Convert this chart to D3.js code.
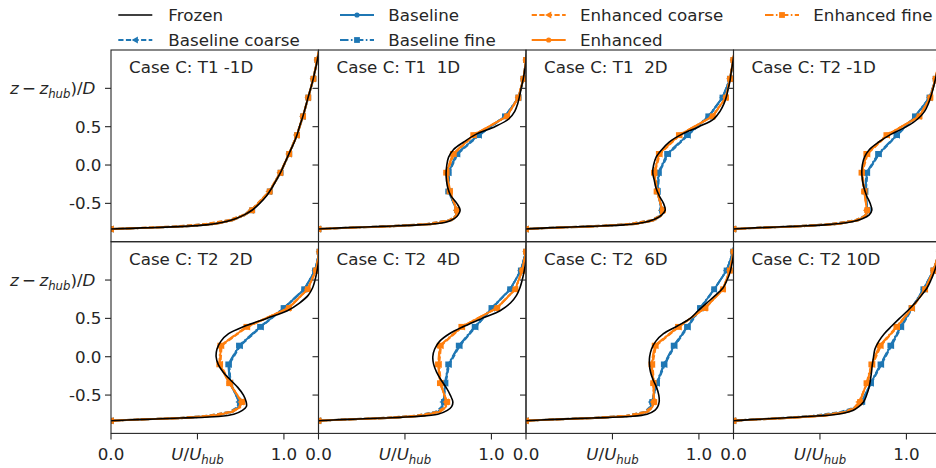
<!DOCTYPE html>
<html><head><meta charset="utf-8">
<script src="https://cdn.jsdelivr.net/npm/d3@7"></script>
<style>
body{margin:0;background:#fff;}
svg text{font-family:"DejaVu Sans",sans-serif;fill:#262626;}
</style></head><body>
<svg id="c" width="936" height="468" xmlns="http://www.w3.org/2000/svg"></svg>
<script>
// ---------------- data ----------------
const titles = ["Case C: T1 -1D","Case C: T1  1D","Case C: T1  2D","Case C: T2 -1D",
                "Case C: T2  2D","Case C: T2  4D","Case C: T2  6D","Case C: T2 10D"];
const zFrozen = [-0.835,-0.82,-0.80,-0.78,-0.75,-0.70,-0.65,-0.59,-0.50,-0.40,-0.30,-0.20,-0.10,0.0,0.10,0.20,0.30,0.40,0.50,0.60,0.70,0.80,0.90,1.0,1.1,1.2,1.3,1.4,1.5];
const zModel = [-0.835,-0.82,-0.80,-0.77,-0.72,-0.66,-0.59,-0.345,-0.10,0.145,0.39,0.635,0.88,1.125,1.37,1.615];
const markerIdx = [0,6,7,8,9,10,11,12,13,14,15];

const frozenU = [
 [0,0.18,0.42,0.55,0.64,0.72,0.77,0.815,0.86,0.90,0.93,0.955,0.98,1.0,1.02,1.04,1.06,1.077,1.09,1.105,1.118,1.13,1.142,1.155,1.167,1.177,1.187,1.196,1.205],
 [0,0.13,0.37,0.58,0.73,0.785,0.808,0.819,0.80,0.765,0.748,0.74,0.738,0.742,0.752,0.78,0.84,0.91,1.02,1.10,1.135,1.152,1.163,1.172,1.182,1.19,1.197,1.203,1.21],
 [0,0.12,0.36,0.57,0.68,0.75,0.785,0.805,0.795,0.77,0.752,0.742,0.733,0.738,0.752,0.785,0.828,0.90,1.0,1.085,1.122,1.145,1.16,1.17,1.18,1.186,1.193,1.2,1.207],
 [0,0.12,0.34,0.53,0.66,0.745,0.785,0.80,0.79,0.77,0.755,0.746,0.742,0.745,0.757,0.785,0.84,0.91,1.0,1.065,1.105,1.127,1.142,1.155,1.166,1.176,1.186,1.195,1.204],
 [0,0.15,0.40,0.62,0.71,0.76,0.783,0.782,0.766,0.733,0.69,0.648,0.62,0.608,0.613,0.635,0.68,0.775,0.90,1.02,1.09,1.14,1.166,1.18,1.19,1.198,1.205,1.21,1.215],
 [0,0.13,0.37,0.56,0.69,0.745,0.77,0.777,0.762,0.738,0.708,0.683,0.666,0.661,0.672,0.70,0.757,0.845,0.945,1.05,1.11,1.145,1.165,1.178,1.188,1.196,1.203,1.209,1.214],
 [0,0.13,0.38,0.60,0.70,0.745,0.762,0.77,0.768,0.755,0.735,0.72,0.714,0.715,0.726,0.75,0.795,0.875,0.95,0.995,1.045,1.095,1.14,1.163,1.18,1.19,1.198,1.205,1.212],
 [0,0.10,0.28,0.43,0.60,0.69,0.725,0.752,0.77,0.784,0.792,0.798,0.803,0.81,0.818,0.84,0.872,0.915,0.96,1.007,1.05,1.087,1.12,1.142,1.16,1.175,1.188,1.198,1.207]
];
const baselineCoarseU = [
 [0,0.17,0.38,0.55,0.68,0.757,0.81,0.915,0.979,1.03,1.074,1.11,1.141,1.17,1.193,1.213],
 [0,0.13,0.38,0.62,0.755,0.795,0.798,0.755,0.755,0.805,0.93,1.083,1.158,1.186,1.201,1.215],
 [0,0.12,0.36,0.59,0.725,0.775,0.783,0.764,0.77,0.824,0.938,1.058,1.138,1.18,1.2,1.215],
 [0,0.11,0.34,0.56,0.705,0.76,0.773,0.765,0.775,0.843,0.948,1.053,1.135,1.17,1.192,1.21],
 [0,0.13,0.38,0.56,0.685,0.73,0.74,0.692,0.684,0.748,0.869,1.003,1.12,1.18,1.205,1.22],
 [0,0.12,0.36,0.56,0.675,0.71,0.72,0.736,0.756,0.818,0.91,1.006,1.11,1.17,1.2,1.215],
 [0,0.12,0.36,0.58,0.685,0.715,0.725,0.76,0.803,0.861,0.938,1.011,1.09,1.16,1.198,1.215],
 [0,0.09,0.27,0.46,0.62,0.70,0.738,0.797,0.856,0.914,0.972,1.035,1.1,1.157,1.19,1.21]
];
const baselineU = [
 [0,0.2,0.44,0.59,0.70,0.765,0.815,0.917,0.98,1.03,1.075,1.11,1.14,1.17,1.192,1.212],
 [0,0.15,0.42,0.66,0.77,0.80,0.80,0.752,0.752,0.80,0.925,1.08,1.157,1.185,1.20,1.215],
 [0,0.14,0.40,0.63,0.74,0.78,0.785,0.761,0.767,0.819,0.934,1.056,1.137,1.18,1.20,1.215],
 [0,0.13,0.38,0.60,0.72,0.765,0.775,0.762,0.771,0.839,0.945,1.051,1.134,1.17,1.192,1.21],
 [0,0.15,0.42,0.60,0.70,0.735,0.743,0.689,0.68,0.743,0.865,1.0,1.118,1.18,1.205,1.22],
 [0,0.14,0.40,0.60,0.69,0.715,0.723,0.733,0.752,0.814,0.906,1.003,1.109,1.17,1.2,1.215],
 [0,0.14,0.40,0.62,0.70,0.72,0.728,0.757,0.799,0.857,0.934,1.008,1.089,1.16,1.198,1.215],
 [0,0.11,0.30,0.50,0.64,0.71,0.742,0.794,0.852,0.91,0.968,1.032,1.099,1.157,1.19,1.21]
];
const baselineFineU = [
 [0,0.21,0.45,0.60,0.705,0.768,0.817,0.918,0.981,1.031,1.076,1.111,1.141,1.171,1.193,1.212],
 [0,0.16,0.43,0.665,0.772,0.80,0.802,0.75,0.75,0.798,0.922,1.078,1.156,1.185,1.20,1.214],
 [0,0.15,0.41,0.635,0.743,0.782,0.787,0.759,0.765,0.816,0.931,1.054,1.136,1.179,1.2,1.214],
 [0,0.14,0.39,0.605,0.723,0.767,0.777,0.76,0.769,0.836,0.942,1.049,1.133,1.169,1.191,1.209],
 [0,0.16,0.43,0.605,0.703,0.737,0.745,0.687,0.678,0.74,0.862,0.998,1.117,1.18,1.205,1.22],
 [0,0.15,0.41,0.605,0.693,0.717,0.725,0.731,0.75,0.811,0.903,1.0,1.108,1.17,1.2,1.215],
 [0,0.15,0.41,0.625,0.703,0.722,0.73,0.755,0.797,0.854,0.931,1.006,1.088,1.16,1.198,1.215],
 [0,0.12,0.31,0.51,0.645,0.712,0.745,0.792,0.85,0.907,0.965,1.03,1.098,1.156,1.19,1.21]
];
const enhancedCoarseU = [
 [0,0.16,0.37,0.54,0.675,0.755,0.81,0.914,0.978,1.029,1.074,1.109,1.14,1.169,1.192,1.212],
 [0,0.13,0.38,0.62,0.755,0.795,0.798,0.762,0.743,0.784,0.90,1.088,1.155,1.185,1.20,1.215],
 [0,0.12,0.36,0.59,0.725,0.776,0.788,0.76,0.745,0.775,0.89,1.077,1.155,1.179,1.198,1.213],
 [0,0.11,0.34,0.56,0.705,0.76,0.769,0.76,0.745,0.776,0.89,1.073,1.137,1.168,1.19,1.208],
 [0,0.13,0.38,0.56,0.685,0.74,0.752,0.69,0.633,0.64,0.79,1.025,1.136,1.185,1.205,1.22],
 [0,0.12,0.36,0.56,0.685,0.73,0.738,0.708,0.698,0.709,0.833,1.03,1.137,1.178,1.2,1.215],
 [0,0.12,0.36,0.58,0.685,0.725,0.736,0.74,0.732,0.752,0.886,1.034,1.138,1.178,1.2,1.215],
 [0,0.09,0.28,0.48,0.64,0.70,0.725,0.774,0.805,0.853,0.948,1.034,1.11,1.157,1.19,1.21]
];
const enhancedU = [
 [0,0.2,0.43,0.59,0.70,0.765,0.815,0.916,0.979,1.03,1.075,1.11,1.14,1.17,1.192,1.212],
 [0,0.15,0.42,0.66,0.77,0.80,0.80,0.76,0.74,0.78,0.897,1.09,1.155,1.185,1.20,1.215],
 [0,0.14,0.40,0.63,0.74,0.78,0.79,0.757,0.742,0.77,0.886,1.079,1.156,1.179,1.198,1.213],
 [0,0.13,0.38,0.60,0.72,0.765,0.771,0.757,0.742,0.771,0.887,1.075,1.138,1.168,1.19,1.208],
 [0,0.15,0.42,0.60,0.70,0.745,0.757,0.685,0.629,0.635,0.786,1.027,1.137,1.185,1.205,1.22],
 [0,0.14,0.40,0.60,0.70,0.735,0.742,0.704,0.694,0.704,0.829,1.032,1.138,1.178,1.2,1.215],
 [0,0.14,0.40,0.62,0.70,0.73,0.74,0.737,0.728,0.747,0.882,1.036,1.139,1.178,1.2,1.215],
 [0,0.11,0.31,0.52,0.66,0.71,0.729,0.771,0.80,0.848,0.945,1.032,1.109,1.157,1.19,1.21]
];
const enhancedFineU = [
 [0,0.21,0.44,0.60,0.705,0.767,0.816,0.918,0.98,1.031,1.076,1.111,1.141,1.171,1.193,1.213],
 [0,0.16,0.43,0.665,0.772,0.80,0.802,0.758,0.738,0.777,0.895,1.091,1.156,1.185,1.20,1.214],
 [0,0.15,0.41,0.635,0.743,0.782,0.792,0.755,0.74,0.768,0.884,1.08,1.157,1.18,1.199,1.213],
 [0,0.14,0.39,0.605,0.723,0.767,0.773,0.755,0.74,0.768,0.884,1.076,1.139,1.169,1.19,1.208],
 [0,0.16,0.43,0.605,0.703,0.747,0.76,0.683,0.626,0.632,0.783,1.029,1.138,1.186,1.206,1.22],
 [0,0.15,0.41,0.605,0.703,0.737,0.745,0.702,0.691,0.701,0.826,1.034,1.139,1.179,1.2,1.215],
 [0,0.15,0.41,0.625,0.703,0.732,0.742,0.735,0.725,0.744,0.879,1.038,1.14,1.179,1.2,1.215],
 [0,0.12,0.32,0.53,0.665,0.712,0.732,0.769,0.797,0.845,0.942,1.03,1.108,1.156,1.19,1.21]
];
const yTicks = [-0.5, 0.0, 0.5, 1.0];
const yTickLabels = ["-0.5", "0.0", "0.5", "AXIS"];
const xTicks = [0.0, 0.5, 1.0];
const xTickLabels = ["0.0", "AXIS", "1.0"];
const legendNames = ["Frozen","Baseline coarse","Baseline","Baseline fine","Enhanced coarse","Enhanced","Enhanced fine"];

// ---------------- style / layout ----------------
const BLUE = "#1f77b4", ORANGE = "#ff7f0e", INK = "#262626";
const FS = 16.7;
const DASHED = "5.2,2.4", DASHDOT = "8.5,2.4,1.6,2.4";
const series = [
  {name:"Baseline coarse", data:baselineCoarseU, color:BLUE,   dash:DASHED,  marker:"tri"},
  {name:"Baseline",        data:baselineU,       color:BLUE,   dash:null,    marker:"dot"},
  {name:"Baseline fine",   data:baselineFineU,   color:BLUE,   dash:DASHDOT, marker:"sq"},
  {name:"Enhanced coarse", data:enhancedCoarseU, color:ORANGE, dash:DASHED,  marker:"tri"},
  {name:"Enhanced",        data:enhancedU,       color:ORANGE, dash:null,    marker:"dot"},
  {name:"Enhanced fine",   data:enhancedFineU,   color:ORANGE, dash:DASHDOT, marker:"sq"}
];
const styleOf = {"Frozen":{color:"#000",dash:null,marker:null}};
series.forEach(s=>styleOf[s.name]=s);

const L0 = 111, PW = 207.5, PH = 191.7, TOPS = [50, 241.7];
const svg = d3.select("#c");
const defs = svg.append("defs");

function drawMarker(g, type, cx, cy, color){
  if(type==="dot") g.append("circle").attr("cx",cx).attr("cy",cy).attr("r",2.6).attr("fill",color);
  else if(type==="sq") g.append("rect").attr("x",cx-2.9).attr("y",cy-2.9).attr("width",5.8).attr("height",5.8).attr("fill",color);
  else if(type==="tri") g.append("path").attr("d",`M${cx-3.6},${cy}L${cx+2.6},${cy-3.6}L${cx+2.6},${cy+3.6}Z`).attr("fill",color);
}

titles.forEach((title, p) => {
  const row = Math.floor(p/4), col = p%4;
  const left = L0 + col*PW, top = TOPS[row];
  const x = d3.scaleLinear().domain([0,1.2]).range([left, left+PW]);
  const y = d3.scaleLinear().domain([-1,1.5]).range([top+PH, top]);
  const cid = "clip"+p;
  defs.append("clipPath").attr("id",cid).append("rect")
      .attr("x",left).attr("y",top).attr("width",PW).attr("height",PH);
  const g = svg.append("g");
  const plot = g.append("g").attr("clip-path",`url(#${cid})`);

  series.forEach(s => {
    const pts = zModel.map((z,i)=>[s.data[p][i], z]);
    plot.append("path")
      .attr("d", d3.line().x(d=>x(d[0])).y(d=>y(d[1]))(pts))
      .attr("fill","none").attr("stroke",s.color).attr("stroke-width",1.9)
      .attr("stroke-dasharray",s.dash).attr("stroke-linejoin","round");
    markerIdx.forEach(i => drawMarker(plot, s.marker, x(pts[i][0]), y(pts[i][1]), s.color));
  });
  const fpts = zFrozen.map((z,i)=>[frozenU[p][i], z]);
  plot.append("path")
    .attr("d", d3.line().curve(d3.curveCatmullRom.alpha(0.5)).x(d=>x(d[0])).y(d=>y(d[1]))(fpts))
    .attr("fill","none").attr("stroke","#000").attr("stroke-width",1.6);

  // frame
  g.append("rect").attr("x",left).attr("y",top).attr("width",PW).attr("height",PH)
    .attr("fill","none").attr("stroke",INK).attr("stroke-width",1.1);
  // y ticks
  yTicks.forEach((t,i) => {
    g.append("line").attr("x1",left-6).attr("x2",left).attr("y1",y(t)).attr("y2",y(t))
      .attr("stroke",INK).attr("stroke-width",1.1);
    if(col===0){
      if(yTickLabels[i]==="AXIS"){
        // the opening parenthesis lies outside the figure in the reference; only the visible part is drawn
        const tx = g.append("text").attr("x",10).attr("y",y(t)).attr("dy","0.36em").attr("font-size",FS);
        tx.append("tspan").attr("font-style","italic").text("z");
        tx.append("tspan").text("\u2009\u2212\u2009");
        tx.append("tspan").attr("font-style","italic").text("z");
        tx.append("tspan").attr("font-style","italic").attr("font-size",FS*0.7).attr("dy",3.5).text("hub");
        tx.append("tspan").attr("dy",-3.5).text(")/");
        tx.append("tspan").attr("font-style","italic").text("D");
      } else {
        g.append("text").attr("x",left-9.5).attr("y",y(t)).attr("dy","0.36em")
          .attr("text-anchor","end").attr("font-size",FS).text(yTickLabels[i]);
      }
    }
  });
  // x ticks (bottom row)
  if(row===1){
    xTicks.forEach((t,i) => {
      g.append("line").attr("x1",x(t)).attr("x2",x(t)).attr("y1",top+PH).attr("y2",top+PH+6)
        .attr("stroke",INK).attr("stroke-width",1.1);
      const tx = g.append("text").attr("x",x(t)).attr("y",460).attr("text-anchor","middle").attr("font-size",FS);
      if(xTickLabels[i]==="AXIS"){
        tx.append("tspan").attr("font-style","italic").text("U");
        tx.append("tspan").text("/");
        tx.append("tspan").attr("font-style","italic").text("U");
        tx.append("tspan").attr("font-style","italic").attr("font-size",FS*0.7).attr("dy",3.5).text("hub");
      } else tx.text(xTickLabels[i]);
    });
  }
  // title
  g.append("text").attr("x",left+18).attr("y",top+23.3).attr("font-size",FS)
    .attr("xml:space","preserve").style("white-space","pre").text(title);
});

// ---------------- legend ----------------
const legCols = [{hx:118.3, tx:168.3},{hx:340, tx:388.3},{hx:531.7, tx:580},{hx:765, tx:813.3}];
const legRows = [15, 40];
legendNames.forEach((name, k) => {
  const col = Math.floor(k/2), row = k%2;
  const c = legCols[col], cy = legRows[row];
  const st = styleOf[name];
  const lg = svg.append("g");
  lg.append("line").attr("x1",c.hx).attr("x2",c.hx+34).attr("y1",cy).attr("y2",cy)
    .attr("stroke",st.color).attr("stroke-width",name==="Frozen"?1.6:1.9).attr("stroke-dasharray",st.dash);
  if(st.marker) drawMarker(lg, st.marker, c.hx+17, cy, st.color);
  lg.append("text").attr("x",c.tx).attr("y",cy).attr("dy","0.36em").attr("font-size",FS).text(name);
});
</script>
</body></html>
